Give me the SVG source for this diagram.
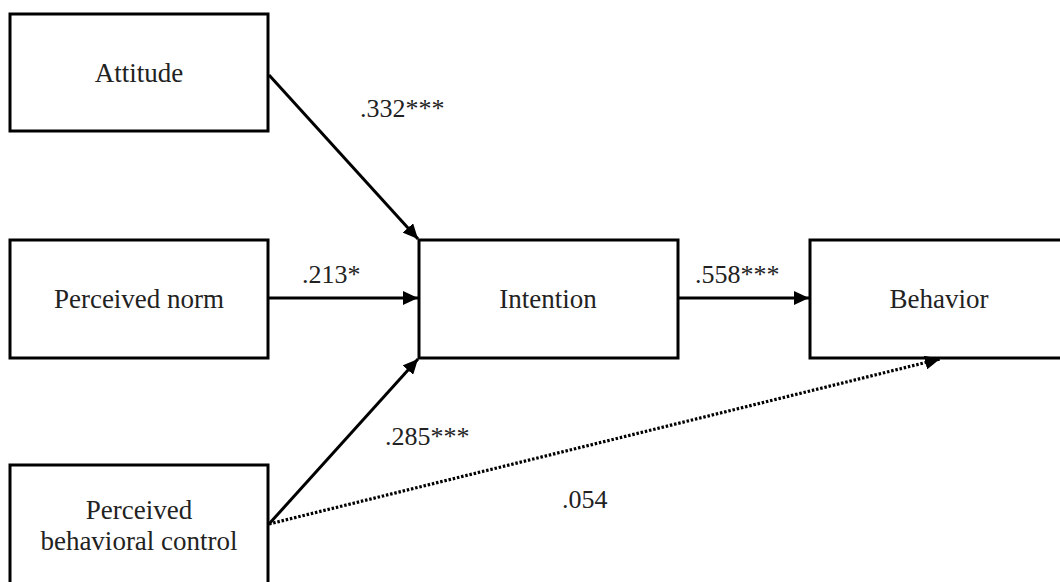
<svg xmlns="http://www.w3.org/2000/svg" width="1060" height="582" viewBox="0 0 1060 582">
<style>
.box{fill:#fff;stroke:#000;stroke-width:3}
.t{font-family:"Liberation Serif","Times New Roman",serif;font-size:27px;fill:#222;text-anchor:middle}
.lbl{font-family:"Liberation Serif","Times New Roman",serif;font-size:26px;fill:#222}
.c{stroke:#000;stroke-width:3;fill:none}
.dot{stroke-dasharray:2.5 1.8;stroke-width:3.2}
</style>
<defs>
<marker id="ah" markerUnits="userSpaceOnUse" markerWidth="16" markerHeight="14" refX="15" refY="7" orient="auto">
<path d="M0,0 L15,7 L0,14 z" fill="#000"/>
</marker>
</defs>
<rect width="1060" height="582" fill="#fff"/>
<g id="attitude"><rect class="box" x="10" y="14" width="258" height="117"/><text class="t" x="139" y="82">Attitude</text></g>
<g id="norm"><rect class="box" x="10" y="240" width="258" height="118"/><text class="t" x="139" y="308">Perceived norm</text></g>
<g id="pbc"><rect class="box" x="10" y="465" width="258" height="130"/><text class="t" x="139" y="519">Perceived</text><text class="t" x="139" y="550">behavioral control</text></g>
<g id="intention"><rect class="box" x="419" y="240" width="259" height="118"/><text class="t" x="548" y="308">Intention</text></g>
<g id="behavior"><rect class="box" x="810" y="240" width="258" height="118"/><text class="t" x="939" y="308">Behavior</text></g>
<g id="connectors">
<line class="c" x1="269" y1="75" x2="418" y2="239" marker-end="url(#ah)"/>
<line class="c" x1="269" y1="298" x2="418" y2="298" marker-end="url(#ah)"/>
<line class="c" x1="269" y1="524" x2="418" y2="359" marker-end="url(#ah)"/>
<line class="c" x1="679" y1="298" x2="809" y2="298" marker-end="url(#ah)"/>
<line class="c dot" x1="269" y1="524" x2="940" y2="359" marker-end="url(#ah)"/>
<text class="lbl" x="360" y="117">.332***</text>
<text class="lbl" x="302" y="283">.213*</text>
<text class="lbl" x="695" y="283">.558***</text>
<text class="lbl" x="385" y="445">.285***</text>
<text class="lbl" x="562" y="508">.054</text>
</g>
</svg>
